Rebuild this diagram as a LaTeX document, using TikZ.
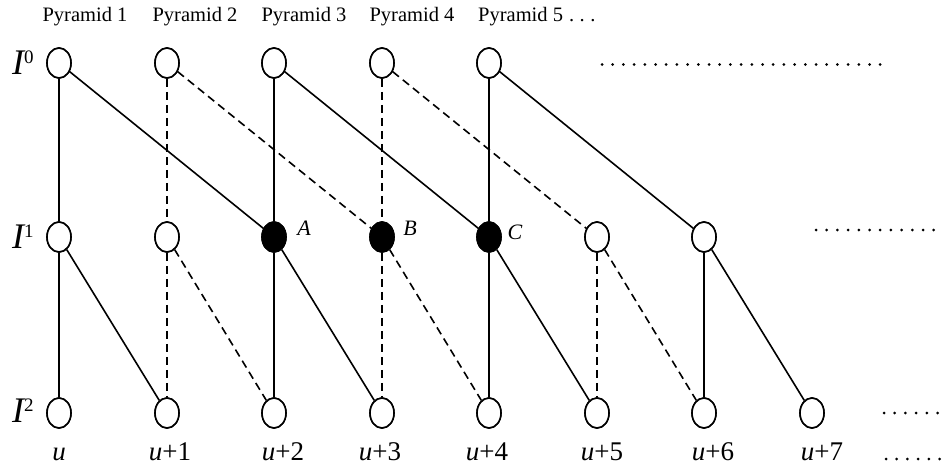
\documentclass[tikz,border=0pt]{standalone}
\usepackage{fontspec}
\setmainfont{Liberation Serif}
\usetikzlibrary{shapes.geometric}
\tikzset{
  nd/.style={draw, ellipse, line width=1.6pt, minimum width=24pt, minimum height=30pt, inner sep=0pt, fill=white},
  full/.style={nd, fill=black},
  sl/.style={line width=1.6pt},
  dl/.style={line width=1.6pt, dash pattern=on 8pt off 5pt},
  pyr/.style={font=\fontsize{20.5}{24}\selectfont, inner sep=0pt},
  lev/.style={font=\fontsize{36}{40}\selectfont\itshape, inner sep=0pt, anchor=base west},
  ulab/.style={font=\fontsize{27}{30}\selectfont, inner sep=0pt, anchor=base},
  abc/.style={font=\fontsize{22}{26}\selectfont\itshape, inner sep=0pt}
}
\newcommand{\lvsup}[1]{\raisebox{11pt}{\fontsize{19}{20}\selectfont\upshape #1}}
\begin{document}
\begin{tikzpicture}[x=1pt,y=-1pt]
\useasboundingbox (0,0) rectangle (945,466);
% nodes
\foreach \i/\x in {1/59,2/167,3/274,4/382,5/489}{
  \node[nd] (a\i) at (\x,63) {};
}
\node[nd] (b1) at (59,237) {};
\node[nd] (b2) at (167,237) {};
\node[full] (b3) at (274,237) {};
\node[full] (b4) at (382,237) {};
\node[full] (b5) at (489,237) {};
\node[nd] (b6) at (597,237) {};
\node[nd] (b7) at (704,237) {};
\foreach \i/\x in {1/59,2/167,3/274,4/382,5/489,6/597,7/704,8/812}{
  \node[nd] (c\i) at (\x,413) {};
}
% edges level 0 -> 1
\draw[sl] (a1) -- (b1); \draw[sl] (a1) -- (b3);
\draw[dl] (a2) -- (b2); \draw[dl] (a2) -- (b4);
\draw[sl] (a3) -- (b3); \draw[sl] (a3) -- (b5);
\draw[dl] (a4) -- (b4); \draw[dl] (a4) -- (b6);
\draw[sl] (a5) -- (b5); \draw[sl] (a5) -- (b7);
% edges level 1 -> 2
\draw[sl] (b1) -- (c1); \draw[sl] (b1) -- (c2);
\draw[dl] (b2) -- (c2); \draw[dl] (b2) -- (c3);
\draw[sl] (b3) -- (c3); \draw[sl] (b3) -- (c4);
\draw[dl] (b4) -- (c4); \draw[dl] (b4) -- (c5);
\draw[sl] (b5) -- (c5); \draw[sl] (b5) -- (c6);
\draw[dl] (b6) -- (c6); \draw[dl] (b6) -- (c7);
\draw[sl] (b7) -- (c7); \draw[sl] (b7) -- (c8);
% redraw nodes on top
\foreach \n in {a1,a2,a3,a4,a5,b1,b2,b6,b7,c1,c2,c3,c4,c5,c6,c7,c8}{
  \draw[line width=1.6pt, fill=white] (\n.center) ellipse (12pt and 15pt);
}
\foreach \n in {b3,b4,b5}{
  \draw[line width=1.6pt, fill=black] (\n.center) ellipse (12pt and 15pt);
}
% pyramid labels
\node[pyr] (p1) at (85,17) {Pyramid 1};
\node[pyr] (p2) at (195,17) {Pyramid 2};
\node[pyr] (p3) at (304,17) {Pyramid 3};
\node[pyr] (p4) at (412,17) {Pyramid 4};
\node[pyr, anchor=west] (p5) at (478,17) {Pyramid 5\hspace{6pt}.\hspace{5.5pt}.\hspace{5.5pt}.};
% level labels
\node[lev] (l0) at (12,74) {I\lvsup{0}};
\node[lev] (l1) at (12,248) {I\lvsup{1}};
\node[lev] (l2) at (12,422) {I\lvsup{2}};
% A B C
\node[abc] (la) at (304,228) {A};
\node[abc] (lb) at (410,228) {B};
\node[abc] (lc) at (515,232) {C};
% u labels
\node[ulab] (u0) at (59,460) {\textit{u}};
\node[ulab] (u1) at (170,460) {\textit{u}+1};
\node[ulab] (u2) at (283,460) {\textit{u}+2};
\node[ulab] (u3) at (380,460) {\textit{u}+3};
\node[ulab] (u4) at (487,460) {\textit{u}+4};
\node[ulab] (u5) at (602,460) {\textit{u}+5};
\node[ulab] (u6) at (713,460) {\textit{u}+6};
\node[ulab] (u7) at (822,460) {\textit{u}+7};
% dot rows
\foreach \k in {0,...,26}{ \fill (602+\k*10.7,64.5) circle (1.5pt); }
\foreach \k in {0,...,11}{ \fill (816+\k*10.7,230) circle (1.5pt); }
\foreach \k in {0,...,5}{ \fill (884+\k*10.7,413) circle (1.5pt); }
\foreach \k in {0,...,5}{ \fill (886+\k*10.7,459) circle (1.5pt); }
\end{tikzpicture}
\end{document}
